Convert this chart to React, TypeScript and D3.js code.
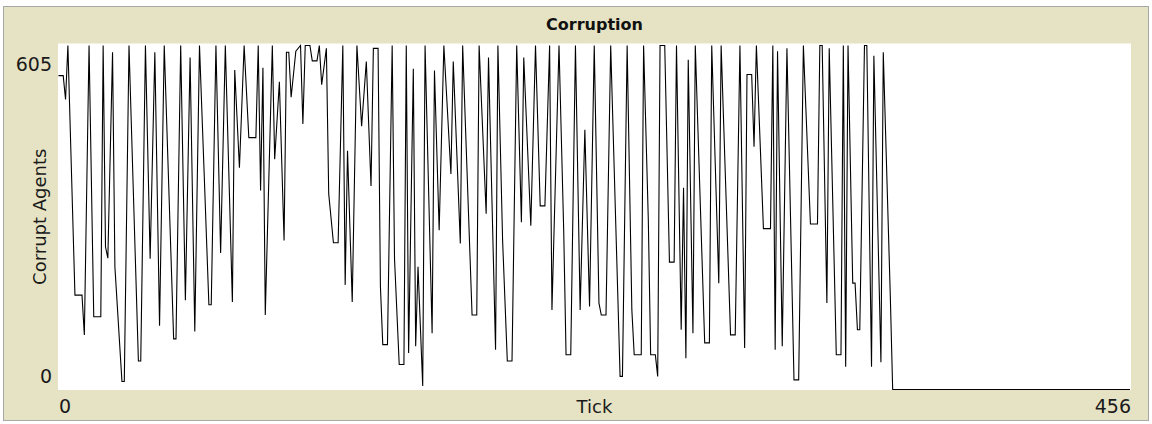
import React from 'react';
import * as d3 from 'd3';

// ---- data ----
const title = 'Corruption';
const xLabel = 'Tick';
const yLabel = 'Corrupt Agents';
const xDomain = [0, 456];
const yDomain = [0, 605];
const xTickLabels = ['0', '456'];
const yTickLabels = ['0', '605'];

const ticks = [
  0, 2, 3, 4, 7, 10, 11, 13, 15, 18, 19, 20, 21, 23, 24, 27, 28, 30, 34, 35,
  37, 39, 41, 43, 45, 49, 50, 52, 54, 56, 58, 60, 62, 64, 65, 67, 69, 71, 74, 75,
  77, 79, 81, 84, 85, 86, 87, 88, 91, 92, 94, 96, 97, 98, 99, 101, 103, 104, 105, 107,
  108, 110, 111, 112, 114, 115, 117, 119, 121, 122, 123, 125, 127, 129, 131, 133, 134, 136, 137, 138,
  140, 142, 143, 145, 147, 148, 149, 151, 152, 153, 155, 156, 159, 160, 162, 164, 167, 168, 171, 172,
  176, 178, 179, 182, 183, 186, 187, 189, 191, 193, 195, 197, 198, 201, 203, 205, 207, 209, 210, 213,
  215, 216, 218, 220, 222, 224, 226, 228, 230, 231, 233, 235, 239, 240, 242, 244, 245, 248, 249, 251,
  252, 254, 255, 256, 258, 260, 262, 263, 265, 266, 267, 268, 270, 271, 275, 277, 278, 281, 282, 286,
  288, 290, 292, 293, 295, 296, 297, 300, 303, 304, 305, 306, 308, 310, 313, 315, 317, 320, 323, 324,
  325, 327, 328, 331, 333, 334, 335, 336, 338, 339, 340, 341, 343, 344, 346, 347, 350, 351, 354, 355,
  456,
];

const corruptAgents = [
  552, 552, 510, 605, 166, 166, 96, 605, 128, 128, 605, 251, 231, 593, 216, 14, 14, 605, 50, 50,
  605, 230, 593, 112, 605, 89, 89, 605, 157, 584, 102, 605, 379, 149, 149, 605, 240, 605, 154, 562,
  390, 605, 443, 443, 605, 350, 566, 131, 605, 405, 541, 262, 593, 593, 514, 595, 605, 467, 605, 605,
  578, 578, 605, 536, 600, 344, 258, 258, 605, 184, 420, 154, 605, 463, 577, 358, 600, 600, 181, 79,
  79, 605, 230, 44, 44, 605, 64, 564, 76, 216, 6, 605, 99, 561, 280, 605, 379, 577, 257, 605,
  131, 131, 605, 309, 584, 70, 605, 262, 50, 50, 605, 294, 584, 288, 605, 323, 323, 605, 140, 605,
  280, 61, 61, 605, 140, 457, 146, 605, 152, 131, 131, 605, 23, 23, 605, 140, 61, 61, 605, 300,
  61, 61, 23, 605, 605, 224, 224, 605, 105, 355, 55, 580, 99, 605, 82, 82, 605, 187, 605, 96,
  96, 605, 73, 554, 554, 427, 605, 283, 283, 605, 70, 595, 76, 600, 17, 17, 605, 291, 291, 605,
  605, 152, 600, 61, 61, 605, 40, 605, 187, 187, 105, 105, 605, 605, 40, 587, 48, 593, 163, 0,
  0,
];

const W = 1152;
const H = 424;
const plot = { left: 58, right: 1131, top: 43.5, bottom: 390 };
const FONT = '"DejaVu Sans", "Liberation Sans", sans-serif';
const BEIGE = '#e6e3c4';

export default function App() {
  const x = d3.scaleLinear().domain(xDomain).range([plot.left + 0.5, plot.right - 1]);
  const y = d3.scaleLinear().domain(yDomain).range([plot.bottom - 0.5, plot.top + 2]);
  const pts: [number, number][] = ticks.map((t, i) => [t, corruptAgents[i]]);
  const line = d3
    .line<[number, number]>()
    .x((d) => x(d[0]))
    .y((d) => y(d[1]));

  return (
    <div style={{ position: 'absolute', left: 0, top: 0 }}>
      <svg width={W} height={H} style={{ display: 'block' }}>
        <rect x={0} y={0} width={W} height={H} fill="#ffffff" />
        <rect x={3.5} y={6.5} width={W - 7} height={H - 10} fill={BEIGE} stroke="#a8a8a8" strokeWidth={1} />
        <text x={(plot.left + plot.right) / 2} y={30} textAnchor="middle" fontFamily={FONT} fontWeight="bold" fontSize={16} fill="#111">
          {title}
        </text>
        <rect x={plot.left} y={plot.top} width={plot.right - plot.left} height={plot.bottom - plot.top} fill="#ffffff" />
        <clipPath id="plotClip">
          <rect x={plot.left} y={plot.top} width={plot.right - plot.left} height={plot.bottom - plot.top} />
        </clipPath>
        <path d={line(pts) || ''} fill="none" stroke="#000" strokeWidth={1.1} strokeLinejoin="miter" clipPath="url(#plotClip)" />
        {/* y tick labels */}
        <text x={52} y={71} textAnchor="end" fontFamily={FONT} fontSize={19} fill="#1a1a1a">
          {yTickLabels[1]}
        </text>
        <text x={52} y={383} textAnchor="end" fontFamily={FONT} fontSize={19} fill="#1a1a1a">
          {yTickLabels[0]}
        </text>
        {/* x tick labels */}
        <text x={59} y={413} textAnchor="start" fontFamily={FONT} fontSize={19} fill="#1a1a1a">
          {xTickLabels[0]}
        </text>
        <text x={1131} y={413} textAnchor="end" fontFamily={FONT} fontSize={19} fill="#1a1a1a">
          {xTickLabels[1]}
        </text>
        <text x={(plot.left + plot.right) / 2} y={413} textAnchor="middle" fontFamily={FONT} fontSize={18} fill="#1a1a1a">
          {xLabel}
        </text>
        <text transform={`translate(46, ${(plot.top + plot.bottom) / 2}) rotate(-90)`} textAnchor="middle" fontFamily={FONT} fontSize={18} fill="#1a1a1a">
          {yLabel}
        </text>
      </svg>
    </div>
  );
}
